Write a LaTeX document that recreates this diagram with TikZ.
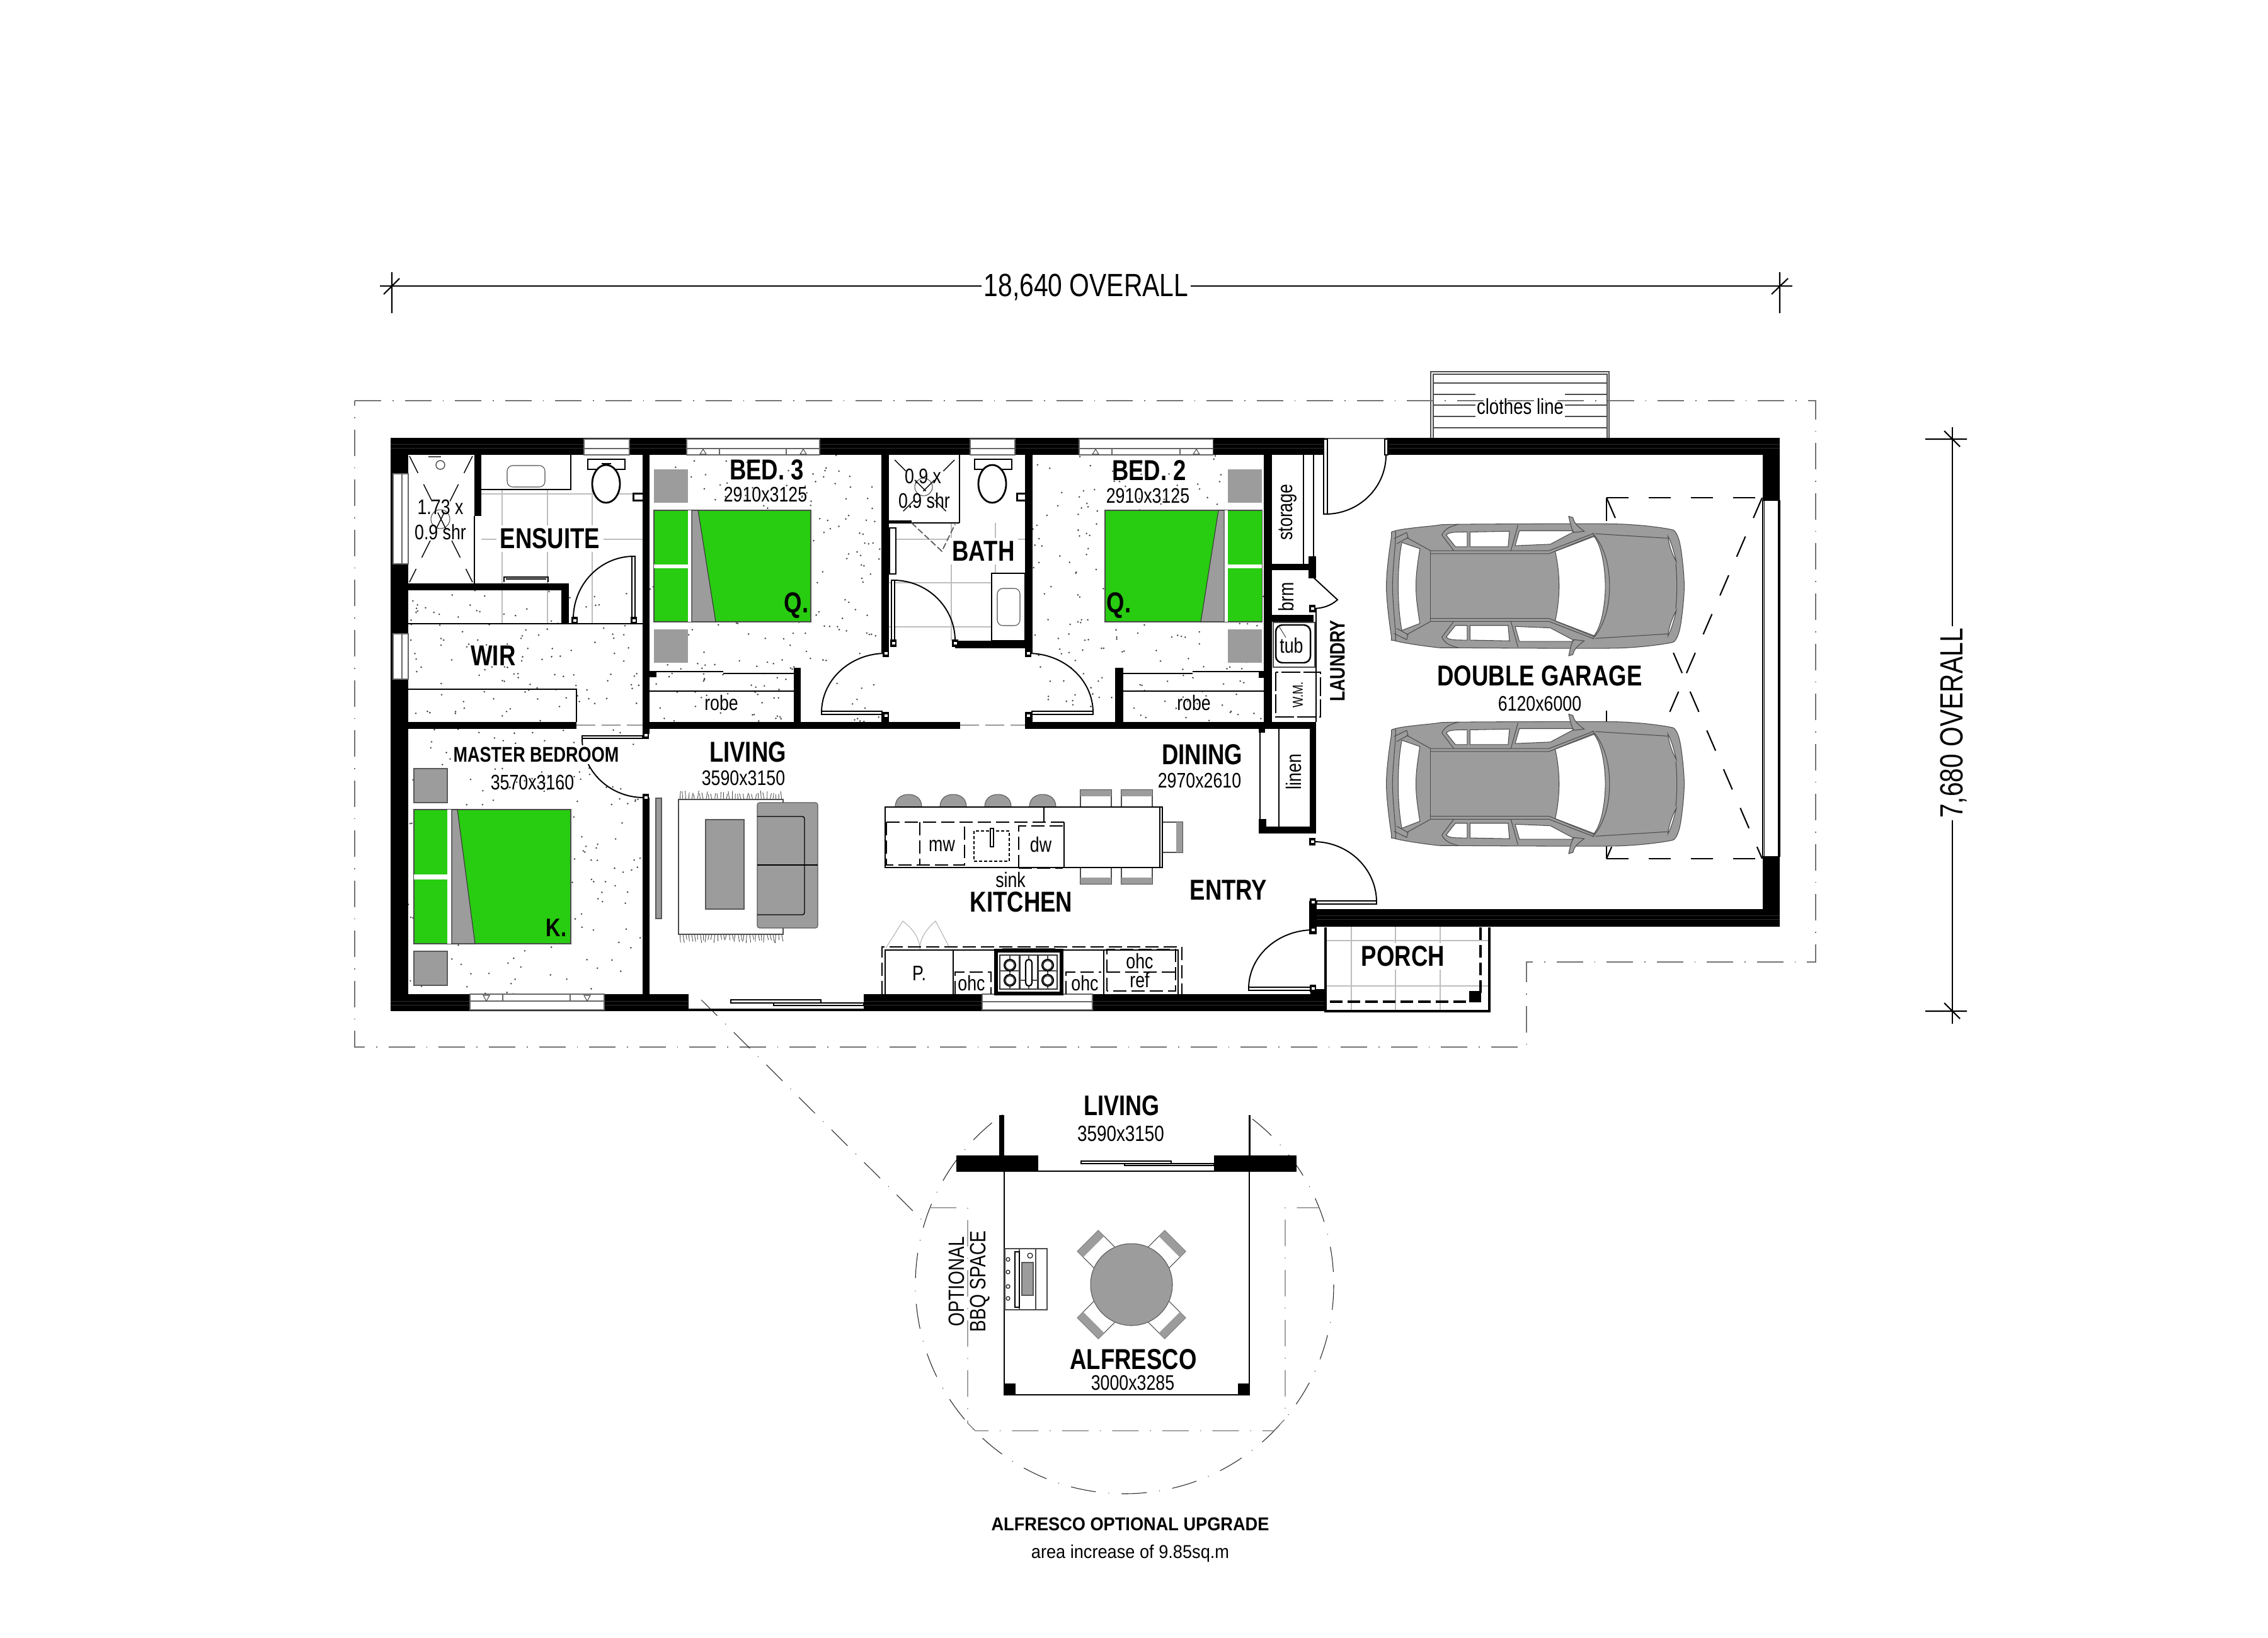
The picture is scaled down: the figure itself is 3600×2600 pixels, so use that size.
\documentclass[tikz,border=0pt]{standalone}
\usepackage{fontspec}
\usetikzlibrary{calc}
\newfontfamily\nf[FakeStretch=0.8]{Liberation Sans}
\newfontfamily\nw[FakeStretch=0.92]{Liberation Sans}
\definecolor{bedgreen}{HTML}{28CC10}
\definecolor{furn}{HTML}{9C9C9C}
\definecolor{tile}{HTML}{BDBDBD}
\definecolor{seam}{HTML}{2E2E2E}
\tikzset{
 roomlabel/.style={font=\nf\bfseries\fontsize{13}{13}\selectfont,inner sep=0pt},
 wiped/.style={fill=white,inner sep=1.5pt},
 sizelabel/.style={font=\nf\fontsize{9.5}{10}\selectfont,inner sep=0pt},
 dimlabel/.style={font=\nf\fontsize{14.5}{15}\selectfont,fill=white,inner sep=1pt},
 thinline/.style={line width=0.4pt,black},
 midline/.style={line width=0.6pt,black},
 tileline/.style={line width=0.4pt,tile},
 furniture/.style={fill=furn,draw=black!65,line width=0.3pt},
 doorleaf/.style={fill=white,draw=black,line width=0.45pt},
 swingline/.style={line width=0.55pt,black},
 dashedblack/.style={line width=0.45pt,black,dash pattern=on 0.21cm off 0.08cm},
 heavydash/.style={line width=0.9pt,black,dash pattern=on 0.2cm off 0.08cm},
 sitedash/.style={line width=0.45pt,black!55,dash pattern=on 0.42cm off 0.18cm on 0.015cm off 0.18cm},
 ringdash/.style={line width=0.3pt,black!85,dash pattern=on 0.4cm off 0.2cm on 0.01cm off 0.2cm},
 linkdash/.style={line width=0.3pt,black!85,dash pattern=on 0.36cm off 0.18cm on 0.01cm off 0.18cm},
 gdoor/.style={line width=0.6pt,black,dash pattern=on 0.35cm off 0.32cm},
 carline/.style={line width=0.3pt,draw=black!70},
 carbody/.style={line width=0.3pt,draw=black!70,fill=furn},
 wallseam/.style={line width=0.2pt,seam},
}
\newcommand\blk[4]{\fill[black] (#1,#2) rectangle (#3,#4);}
\newcommand\speck[5]{\foreach \i in {1,...,#5}{\pgfmathsetmacro\px{#1+rnd*(#3-#1)}\pgfmathsetmacro\py{#2+rnd*(#4-#2)}\fill[black!75] (\px,\py) circle[radius=1.4];}}
\newcommand\swing[3]{\draw[swingline] (#1) .. controls ($(#1)!.552!(#3)$) and ($(#2)!.552!(#3)$) .. (#2);}
\newcommand\win[4]{\fill[white] (#1,#2) rectangle (#3,#4);\draw[line width=0.3pt,black!60] (#1,#2) rectangle (#3,#4);}
\newcommand\halfcar{%
 \draw[carbody] (760,100) -- (775,105) .. controls (780,125) and (785,135) .. (815,160) -- (778,165) .. controls (768,145) and (765,125) .. cycle;
 \draw[carline,fill=white] (325,175) .. controls (335,165) and (345,163) .. (400,163) -- (400,222) -- (358,222) -- cycle;
 \draw[carline,fill=white] (410,163) -- (550,160) -- (545,222) -- (410,222) -- cycle;
 \draw[carline,fill=white] (585,158) -- (770,158) -- (778,162) -- (695,212) -- (570,218) -- cycle;
 \draw[carline] (310,175) .. controls (320,150) and (340,140) .. (370,132);
 \draw[carline] (310,175) -- (352,238);
 \draw[carline] (580,135) -- (555,238);
 \draw[carline] (855,170) -- (1110,188);
 \draw[carline,fill=white] (1112,180) .. controls (1125,205) and (1135,250) .. (1142,282) .. controls (1130,260) and (1115,215) .. cycle;
 \draw[carline] (140,190) -- (185,165) -- (190,185) -- (150,210);
 \draw[carline] (145,158) .. controls (150,180) and (135,300) .. (135,380);
 \draw[carline] (270,250) -- (690,250) -- (852,180);
 \draw[carline] (270,238) -- (690,238) -- (850,168);
 \draw[carline] (185,185) -- (270,238);
}
\newcommand\wholecar{%
 \draw[carbody] plot[smooth cycle,tension=.55] coordinates {(860,130)(1000,135)(1110,150)(1140,165)(1158,230)(1170,380)(1158,530)(1140,595)(1110,610)(1000,625)(860,630)(370,628)(280,625)(145,600)(130,575)(113,380)(130,190)(145,158)(280,138)(370,132)};
 \draw[carline,fill=white] (712,240) -- (848,178) .. controls (880,220) and (890,320) .. (890,380) .. controls (890,440) and (880,540) .. (848,582) -- (712,520) .. controls (722,470) and (726,420) .. (726,380) .. controls (726,340) and (722,290) .. cycle;
 \draw[carline,fill=white] (168,205) -- (232,230) .. controls (222,300) and (218,340) .. (218,380) .. controls (218,420) and (222,460) .. (232,530) -- (168,558) .. controls (158,500) and (155,430) .. (155,380) .. controls (155,330) and (158,260) .. cycle;
 \draw[carline] (845,168) .. controls (895,230) and (905,320) .. (905,380) .. controls (905,440) and (895,530) .. (845,592);
 \draw[carline] (270,238) -- (270,520);
 \draw[carline] (1140,290) .. controls (1145,340) and (1145,420) .. (1140,470);
 \halfcar
 \begin{scope}[shift={(0,760)},yscale=-1]\halfcar\end{scope}
}
\begin{document}
\begin{tikzpicture}[x=0.01cm,y=-0.01cm]
\useasboundingbox (0,0) rectangle (3600,2600);
\fill[white] (0,0) rectangle (3600,2600);
\pgfmathsetseed{4217}
% ---------- carpet speckle
\speck{1031}{722}{1399}{1146}{240}
\speck{1639}{722}{2006}{1146}{240}
\speck{648}{937}{1020}{1146}{120}
\speck{648}{1157}{1020}{1578}{190}
% ---------- tiles
\foreach \v in {797,869,940}{\draw[tileline] (\v,777) -- (\v,990);}
\foreach \h in {784,856}{\draw[tileline] (764,\h) -- (1020,\h);}
\draw[tileline] (764,990) -- (1020,990);
\foreach \v in {1510,1580}{\draw[tileline] (\v,830) -- (\v,1017);}
\foreach \h in {856,925,995}{\draw[tileline] (1411,\h) -- (1627,\h);}
\foreach \v in {2145,2215,2286}{\draw[tileline] (\v,1471) -- (\v,1603);}
\foreach \h in {1493,1565}{\draw[tileline] (2104,\h) -- (2364,\h);}
% ---------- clothes line
\draw[line width=0.5pt,black!70] (2271,695) -- (2271,590) -- (2554,590) -- (2554,695);
\draw[line width=0.4pt,black!70] (2275,695) -- (2275,594) -- (2551,594) -- (2551,695);
\foreach \h in {608,626,643,661,679}{\draw[line width=0.4pt,black!70] (2275,\h) -- (2551,\h);}
\node[font=\nf\fontsize{9.8}{10}\selectfont,fill=white,inner sep=0pt,minimum width=1.42cm,minimum height=0.42cm] (clothes) at (2413,645) {clothes line};
% ---------- site outline
\draw[sitedash] (563,636) -- (2882,636) -- (2882,1527) -- (2423,1527) -- (2423,1662) -- (563,1662) -- cycle;
% ---------- dimension lines
\coordinate (dimL) at (603,454); \coordinate (dimR) at (2845,454);
\coordinate (dimT) at (3099,678); \coordinate (dimB) at (3099,1625);
\draw[line width=0.6pt] (dimL) -- (dimR);
\draw[line width=0.6pt] (dimT) -- (dimB);
\draw[line width=0.6pt] (622,432) -- (622,497) (609,467) -- (634,442);
\draw[line width=0.6pt] (2825,432) -- (2825,497) (2812,467) -- (2838,442);
\draw[line width=0.6pt] (3056,697) -- (3122,697) (3086,684) -- (3111,709);
\draw[line width=0.6pt] (3056,1605) -- (3122,1605) (3086,1592) -- (3111,1617);
\node[dimlabel] (dimW) at (1724,456) {18,640 OVERALL};
\node[dimlabel,rotate=90] (dimH) at (3101,1148) {7,680 OVERALL};
% ---------- walls
\blk{620}{695}{2102}{722}
\blk{2201}{695}{2825}{722}
\blk{620}{695}{648}{1605}
\blk{620}{1578}{1092}{1605}
\blk{1371}{1578}{2104}{1605}
\blk{2798}{695}{2825}{794}
\blk{2798}{1360}{2825}{1471}
\blk{2090}{1443}{2825}{1471}
\blk{2078}{1430}{2090}{1483}
\blk{2080}{1570}{2104}{1605}
\blk{1092}{1601}{1371}{1605}
\draw[line width=0.5pt] (1092,1578) -- (1092,1605);
\draw[line width=0.3pt,black!60] (2102,696) -- (2201,696);
\draw[wallseam] (620,705) -- (2102,705) (620,711) -- (2102,711) (2201,705) -- (2825,705) (2201,711) -- (2825,711);
\draw[wallseam] (620,1589) -- (1092,1589) (620,1595) -- (1092,1595) (1371,1589) -- (2104,1589) (1371,1595) -- (2104,1595);
\draw[wallseam] (2090,1453) -- (2825,1453) (2090,1459) -- (2825,1459);
% interior walls
\blk{1020}{722}{1031}{1165}
\blk{1020}{1266}{1031}{1578}
\blk{648}{1146}{915}{1157}
\blk{1031}{1146}{1524}{1157}
\blk{1627}{1146}{2089}{1157}
\blk{1399}{722}{1411}{1036}
\blk{1627}{722}{1639}{1036}
\blk{1399}{1131}{1411}{1146}
\blk{1627}{1131}{1639}{1146}
\blk{1516}{1017}{1627}{1029}
\blk{648}{926}{903}{937}
\blk{891}{926}{903}{990}
\blk{753}{722}{764}{819}
\blk{1260}{1065}{1271}{1146}
\blk{1770}{1065}{1783}{1146}
\blk{2006}{722}{2019}{1157}
\blk{2019}{895}{2089}{905}
\blk{2077}{883}{2089}{918}
\blk{2019}{976}{2085}{987}
\blk{2079}{1157}{2089}{1323}
\blk{1998}{1312}{2089}{1323}
\blk{1998}{1157}{2008}{1163}
% ---------- thin room lines
\draw[thinline] (648,990) -- (1020,990);
\draw[thinline] (648,1094) -- (915,1094) -- (915,1146);
\draw[thinline] (1031,1097) -- (1260,1097);
\draw[thinline] (1783,1097) -- (2006,1097);
\draw[midline] (1031,1066) -- (1148,1066) (1148,1069) -- (1260,1069);
\draw[midline] (1783,1069) -- (1893,1069) (1893,1066) -- (2006,1066);
\draw[thinline] (753,819) -- (753,926);
\draw[thinline] (2069,722) -- (2069,895);
\draw[midline] (2085,722) -- (2085,883);
\draw[thinline] (2089,966) -- (2089,1146);
\draw[thinline] (2030,1157) -- (2030,1312);
\draw[midline] (2000,1163) -- (2000,1312);
\blk{1030}{1065}{1042}{1075}
\blk{1260}{1060}{1271}{1076}
\blk{1770}{1060}{1783}{1076}
\blk{1998}{1066}{2006}{1076}
\blk{1998}{1300}{2010}{1323}
% doorway dashes
\draw[black!40,line width=0.3pt,dash pattern=on 0.3cm off 0.1cm] (915,1151) -- (1020,1151);
\draw[black!40,line width=0.3pt,dash pattern=on 0.3cm off 0.1cm] (1524,1151) -- (1627,1151);
% ---------- windows
\win{746}{1578}{959}{1603}\draw[black!60,line width=0.3pt] (746,1589) -- (959,1589) (798,1578) -- (798,1589) (905,1578) -- (905,1589);
\win{1090}{697}{1301}{722}\draw[black!60,line width=0.3pt] (1090,712) -- (1301,712) (1142,712) -- (1142,722) (1248,712) -- (1248,722);
\win{1713}{697}{1925}{722}\draw[black!60,line width=0.3pt] (1713,712) -- (1925,712) (1765,712) -- (1765,722) (1873,712) -- (1873,722);
\win{927}{697}{999}{722}\draw[black!60,line width=0.3pt] (927,712) -- (999,712);
\win{1540}{697}{1611}{722}\draw[black!60,line width=0.3pt] (1540,712) -- (1611,712);
\win{624}{752}{648}{895}\draw[black!60,line width=0.3pt] (638,752) -- (638,895);
\win{624}{1006}{648}{1078}\draw[black!60,line width=0.3pt] (638,1006) -- (638,1078);
\win{1559}{1578}{1734}{1603}\draw[black!60,line width=0.3pt] (1559,1590) -- (1734,1590);
\foreach \px in {772,932}{\draw[black!70,line width=0.3pt] (\px-5,1580) -- (\px+5,1580) -- (\px,1589) -- cycle;}
\foreach \px in {1116,1275,1739,1899}{\draw[black!70,line width=0.3pt] (\px-5,721) -- (\px+5,721) -- (\px,713) -- cycle;}
% garage door
\fill[white] (2798,794) rectangle (2825,1360);
\draw[line width=0.4pt] (2798,794) rectangle (2823,1360);
\draw[line width=0.3pt] (2800,794) -- (2800,1360);
\draw[line width=1.2pt] (2824,794) -- (2824,1360);
% ---------- doors
\draw[doorleaf] (1003,883) rectangle (1008,982);
\swing{1006,883}{910,982}{910,883}
\draw[doorleaf] (924,1168) rectangle (1020,1172);
\swing{924,1172}{1022,1266}{924,1266}
\draw[doorleaf] (1304,1129) rectangle (1400,1134);
\swing{1304,1131}{1406,1037}{1304,1037}
\draw[doorleaf] (1415,921) rectangle (1420,1017);
\swing{1418,921}{1516,1017}{1516,921}
\draw[doorleaf] (1638,1129) rectangle (1735,1134);
\swing{1735,1131}{1632,1037}{1735,1037}
\draw[doorleaf] (2101,697) rectangle (2107,816);
\swing{2104,816}{2200,722}{2200,816}
\draw[doorleaf] (2198,697) rectangle (2203,722);
\draw[doorleaf] (2090,1430) rectangle (2185,1435);
\swing{2185,1432}{2085,1336}{2185,1336}
\draw[doorleaf] (1982,1567) rectangle (2080,1572);
\swing{1982,1569}{2085,1476}{1982,1476}
\draw[swingline] (2083,915) -- (2123,952) .. controls (2112,962) and (2098,966) .. (2083,966);
\foreach \hx/\hy in {1006/985,912/985,1025/1167,1025/1266,1406/1037,1406/1136,1418/1021,1516/1021,1632/1037,1632/1136,2083/1336,2084/1432,2084/1476,2084/1569,2083/966}{\fill[black] (\hx-5,\hy-6) rectangle (\hx+5,\hy+6);\fill[white] (\hx-2.5,\hy-2) rectangle (\hx+2.5,\hy+2);}
% ---------- beds
\fill[furn] (1038,745) rectangle (1092,798);
\fill[furn] (1038,999) rectangle (1092,1052);
\filldraw[fill=bedgreen,draw=black!70,line width=0.3pt] (1038,810) rectangle (1287,987);
\fill[white] (1092,810) rectangle (1098,987);
\fill[white] (1038,896) rectangle (1092,902);
\draw[fill=furn,draw=black!80,line width=0.3pt] (1098,810) -- (1108,810) -- (1136,987) -- (1098,987) -- cycle;
\fill[furn] (1949,745) rectangle (2003,798);
\fill[furn] (1949,999) rectangle (2003,1052);
\filldraw[fill=bedgreen,draw=black!70,line width=0.3pt] (1754,810) rectangle (2003,987);
\fill[white] (1943,810) rectangle (1949,987);
\fill[white] (1949,896) rectangle (2003,902);
\draw[fill=furn,draw=black!80,line width=0.3pt] (1934,810) -- (1943,810) -- (1943,987) -- (1906,987) -- cycle;
\draw[furniture] (657,1220) rectangle (710,1274);
\draw[furniture] (657,1510) rectangle (710,1564);
\filldraw[fill=bedgreen,draw=black!70,line width=0.3pt] (657,1285) rectangle (906,1498);
\fill[white] (710,1285) rectangle (717,1498);
\fill[white] (657,1388) rectangle (710,1396);
\draw[fill=furn,draw=black!80,line width=0.3pt] (717,1285) -- (726,1285) -- (754,1498) -- (717,1498) -- cycle;
% ---------- ensuite fixtures
\draw[line width=0.5pt] (764,777) -- (906,777) -- (906,722);
\draw[line width=0.3pt,black!70,rounded corners=2.5pt] (805,739) rectangle (865,773);
\draw[thinline] (800,924) -- (800,916) -- (870,916) -- (870,924);
\draw[thinline] (803,919) -- (867,919);
\draw[line width=0.5pt,fill=white] (933,729) rectangle (992,745);
\draw[line width=0.8pt,fill=white] (962,768) ellipse [x radius=22,y radius=30];
\fill[black] (955,735) rectangle (970,737);
\blk{1004}{782}{1020}{796}\fill[white] (1007,785) rectangle (1020,793);
\draw[line width=0.3pt,black!70] (699,824) circle [radius=15];
\draw[thinline,dash pattern=on 0.3cm off 0.2cm] (650,724) -- (750,924) (750,724) -- (650,924);
\draw[thinline,black!70] (680,725) -- (700,725);
\draw[thinline,black!70] (699,738) circle [radius=7];
% ---------- bath fixtures
\draw[midline] (1411,830) -- (1523,830) (1523,722) -- (1523,830);
\fill[black] (1411,826) rectangle (1447,829);
\draw[line width=0.3pt,black!70] (1466,773) circle [radius=14];
\draw[thinline,dash pattern=on 0.25cm off 0.2cm] (1420,730) -- (1515,825) (1515,730) -- (1420,825);
\draw[black!65,line width=0.5pt,dash pattern=on 0.1cm off 0.04cm] (1447,830) -- (1495,875) -- (1516,832);
\draw[thinline,fill=white] (1412,838) rectangle (1422,911);
\draw[line width=0.5pt,fill=white] (1547,729) rectangle (1606,745);
\draw[line width=0.8pt,fill=white] (1575,768) ellipse [x radius=22,y radius=30];
\blk{1613}{782}{1627}{796}\fill[white] (1616,785) rectangle (1627,793);
\draw[line width=0.5pt,fill=white] (1574,910) -- (1627,910) -- (1627,1017) -- (1574,1017) -- cycle;
\draw[line width=0.3pt,black!70,rounded corners=2.5pt] (1583,934) rectangle (1619,993);
% ---------- laundry
\draw[line width=0.5pt,black!70] (2021,988) rectangle (2087,1059);
\draw[line width=0.7pt,rounded corners=3pt] (2025,992) rectangle (2080,1052);
\draw[line width=0.3pt,black!70] (2030,994) -- (2041,1012);
\draw[line width=0.45pt,dash pattern=on 0.3cm off 0.05cm] (2025,1067) rectangle (2096,1138);
% ---------- alfresco link line
\coordinate (linkA) at (1113,1587); \coordinate (linkB) at (1469,1942);
\draw[linkdash] (linkA) -- (linkB);
% ---------- living
\draw[furniture] (1041,1267) rectangle (1050,1458);
\draw[line width=0.3pt,black!70] (1077,1269) rectangle (1243,1483);
\foreach \fx in {1,...,36}{\pgfmathsetmacro\qx{1077+(\fx-0.5)*166/36}\pgfmathsetmacro\dxa{(rnd-0.5)*5}\pgfmathsetmacro\dxb{(rnd-0.5)*5}\pgfmathsetmacro\dya{8+rnd*6}\pgfmathsetmacro\dyb{8+rnd*6}\draw[line width=0.25pt,black!70] (\qx,1269) -- (\qx+\dxa,1269-\dya) (\qx,1483) -- (\qx+\dxb,1483+\dyb);}
\draw[furniture] (1120,1301) rectangle (1181,1443);
\draw[furniture,rounded corners=1pt] (1202,1274) rectangle (1298,1473);
\draw[line width=0.4pt,rounded corners=1pt] (1202,1296) -- (1277,1296) -- (1277,1452) -- (1202,1452);
\draw[line width=0.4pt] (1202,1373) -- (1298,1373);
% sliding door
\draw[doorleaf] (1160,1587) rectangle (1303,1592);
\draw[doorleaf] (1228,1592) rectangle (1371,1596);
% ---------- kitchen island
\foreach \sx in {1442,1513,1584,1655}{\filldraw[furniture] (\sx-21,1281) .. controls (\sx-21,1267) and (\sx-11,1261) .. (\sx,1261) .. controls (\sx+11,1261) and (\sx+21,1267) .. (\sx+21,1281) -- cycle;}
\foreach \cx in {1715,1780}{
 \draw[line width=0.3pt,black!70] (\cx,1254) rectangle (\cx+49,1281);\fill[furn] (\cx,1254) rectangle (\cx+49,1264);
 \draw[line width=0.3pt,black!70] (\cx,1377) rectangle (\cx+49,1403);\fill[furn] (\cx,1393) rectangle (\cx+49,1403);}
\draw[line width=0.3pt,black!70] (1845,1305) rectangle (1877,1353);\fill[furn] (1867,1305) rectangle (1877,1353);
\draw[line width=0.6pt,fill=white] (1405,1281) rectangle (1845,1377);
\draw[line width=0.3pt] (1841,1281) -- (1841,1377);
\draw[midline] (1657,1281) -- (1657,1305);
\draw[dashedblack] (1407,1305) -- (1689,1305);
\draw[line width=0.8pt] (1689,1305) -- (1689,1377);
\draw[dashedblack] (1407,1305) -- (1407,1373) -- (1531,1373) -- (1531,1305);
\draw[dashedblack] (1460,1305) -- (1460,1373);
\draw[dashedblack] (1617,1378) -- (1617,1311) -- (1687,1311);
\draw[dashedblack] (1617,1378) -- (1687,1378);
\draw[line width=0.3pt,dash pattern=on 0.05cm off 0.03cm] (1546,1319) rectangle (1602,1367);
\draw[line width=0.3pt,fill=white] (1572,1315) rectangle (1577,1344);
% ---------- kitchen back bench
\draw[line width=0.3pt,black!30] (1406,1505) -- (1433,1462) .. controls (1450,1475) and (1460,1490) .. (1460,1507);
\draw[line width=0.3pt,black!30] (1506,1502) -- (1485,1462) .. controls (1470,1475) and (1460,1490) .. (1460,1507);
\draw[line width=0.45pt,dash pattern=on 0.21cm off 0.08cm] (1400,1578) -- (1400,1503) -- (1876,1503) -- (1876,1578);
\draw[midline] (1405,1578) -- (1405,1508) -- (1870,1508) -- (1870,1578);
\draw[line width=0.8pt] (1513,1508) -- (1513,1578);
\draw[line width=0.8pt] (1752,1508) -- (1752,1578);
\draw[dashedblack,line width=0.6pt] (1516,1578) -- (1516,1543) -- (1573,1543) -- (1573,1578);
\draw[dashedblack,line width=0.6pt] (1692,1578) -- (1692,1543) -- (1748,1543);
\draw[dashedblack,line width=0.6pt] (1757,1573) rectangle (1866,1507);
\draw[dashedblack,line width=0.6pt] (1757,1543) -- (1866,1543);
% stove
\fill[black!70] (1591,1505) rectangle (1675,1508);
\draw[line width=1pt,fill=white] (1580,1508) rectangle (1686,1578);
\draw[line width=0.5pt] (1583,1511) rectangle (1683,1575);
\foreach \pa/\pb in {1587/1618,1619/1647,1648/1678}{\draw[line width=0.5pt,black!80] (\pa,1516) rectangle (\pb,1570);}
\draw[line width=0.4pt,black!70] (1587,1541) -- (1618,1541) (1648,1541) -- (1678,1541) (1603,1516) -- (1603,1570) (1663,1516) -- (1663,1570) (1619,1556) -- (1647,1556) (1633,1516) -- (1633,1570);
\foreach \bx/\by in {1603/1532,1603/1556,1663/1532,1663/1556}{\draw[line width=0.6pt,fill=white] (\bx,\by) circle [radius=9];\draw[line width=0.3pt] (\bx,\by) circle [radius=7];}
\draw[line width=0.6pt,fill=white,rounded corners=1.4pt] (1628,1523) rectangle (1638,1565);
% ---------- porch
\draw[line width=0.9pt] (2104,1472) -- (2104,1605) -- (2364,1605) -- (2364,1472);
\draw[heavydash] (2350,1472) -- (2350,1580);
\draw[heavydash] (2111,1590) -- (2332,1590);
\blk{2332}{1573}{2351}{1591}
% ---------- garage door dashes
\draw[gdoor] (2550,790) -- (2797,790);
\draw[gdoor] (2550,1363) -- (2797,1363);
\draw[gdoor] (2550,790) -- (2797,1363);
\draw[gdoor] (2797,790) -- (2550,1363);
\draw[line width=0.6pt] (2550,790) -- (2550,827) (2550,1128) -- (2550,1146) (2550,1341) -- (2550,1363);
% ---------- cars
\begin{scope}[shift={(2150,780)},x=0.0044643cm,y=-0.0039526cm]\wholecar\end{scope}
\begin{scope}[shift={(2150,1094)},x=0.0044643cm,y=-0.0039526cm]\wholecar\end{scope}
% ---------- room labels
\node[roomlabel,wiped] (ensuite) at (873,855) {ENSUITE};
\node[roomlabel] (wir) at (783,1041) {WIR};
\node[roomlabel] (bed3) at (1217,746) {BED. 3};
\node[sizelabel] (bed3s) at (1215,785) {2910x3125};
\node[roomlabel] (bed2) at (1824,747) {BED. 2};
\node[sizelabel] (bed2s) at (1822,787) {2910x3125};
\node[roomlabel,wiped] (bath) at (1561,875) {BATH};
\node[roomlabel] (qa) at (1264,961) {Q.};
\node[roomlabel] (qb) at (1776,961) {Q.};
\node[roomlabel,font=\nf\bfseries\fontsize{11.5}{12}\selectfont] (kk) at (883,1473) {K.};
\node[sizelabel] (robea) at (1145,1116) {robe};
\node[sizelabel] (robeb) at (1895,1116) {robe};
\node[roomlabel,font=\nf\bfseries\fontsize{9.6}{10}\selectfont,fill=white,inner sep=1pt] (master) at (851,1198) {MASTER BEDROOM};
\node[sizelabel] (masters) at (845,1242) {3570x3160};
\node[roomlabel] (living) at (1187,1194) {LIVING};
\node[sizelabel] (livings) at (1180,1235) {3590x3150};
\node[roomlabel] (dining) at (1908,1198) {DINING};
\node[sizelabel] (dinings) at (1904,1239) {2970x2610};
\node[roomlabel] (entry) at (1950,1413) {ENTRY};
\node[roomlabel] (kitchen) at (1621,1432) {KITCHEN};
\node[sizelabel] (sink) at (1604,1397) {sink};
\node[sizelabel] (mw) at (1495,1342) {mw};
\node[sizelabel] (dw) at (1652,1341) {dw};
\node[sizelabel] (pant) at (1459,1545) {P.};
\node[sizelabel] (ohca) at (1542,1561) {ohc};
\node[sizelabel] (ohcb) at (1722,1561) {ohc};
\node[sizelabel] (ohcc) at (1809,1526) {ohc};
\node[sizelabel] (ref) at (1809,1556) {ref};
\node[sizelabel,rotate=90] (linen) at (2054,1225) {linen};
\node[sizelabel,rotate=90] (storage) at (2044,813) {storage};
\node[sizelabel,rotate=90] (brm) at (2042,947) {brm};
\node[sizelabel] (tub) at (2050,1025) {tub};
\node[sizelabel,rotate=90,font=\nf\fontsize{6.5}{7}\selectfont] (wm) at (2060,1103) {W.M.};
\node[roomlabel,rotate=90,font=\nf\bfseries\fontsize{9.5}{10}\selectfont] (laundry) at (2123,1049) {LAUNDRY};
\node[roomlabel,fill=white,inner sep=2pt] (garage) at (2444,1073) {DOUBLE GARAGE};
\node[sizelabel,fill=white,inner sep=1pt] (garages) at (2444,1117) {6120x6000};
\node[roomlabel,wiped] (porch) at (2227,1518) {PORCH};
\node[sizelabel] (sa) at (699,805) {1.73 x};
\node[sizelabel] (sb) at (699,845) {0.9 shr};
\node[sizelabel] (sc) at (1465,756) {0.9 x};
\node[sizelabel] (sd) at (1467,795) {0.9 shr};
% ---------- alfresco detail
\draw[ringdash] (1785,2039) circle [radius=332];
\draw[sitedash,line width=0.35pt] (1476,1917) -- (1536,1917) -- (1536,2259) -- (1548,2271) -- (2022,2271) -- (2040,2252) -- (2040,1917) -- (2094,1917);
\fill[white] (1594,1700) rectangle (1983,2214);
\blk{1518}{1834}{1648}{1860}
\blk{1927}{1834}{2058}{1860}
\blk{1586}{1770}{1594}{1834}
\blk{1982}{1770}{1985}{1834}
\draw[line width=0.8pt] (1594,1860) -- (1594,2214) -- (1983,2214) -- (1983,1860);
\draw[line width=0.6pt] (1648,1859) -- (1927,1859);
\draw[doorleaf] (1716,1843) rectangle (1859,1847);
\draw[doorleaf] (1785,1847) rectangle (1927,1850);
\blk{1594}{2196}{1612}{2214}
\blk{1965}{2196}{1983}{2214}
% table and chairs
\foreach \ang in {45,135,225,315}{\begin{scope}[shift={(1796,2039)},rotate=\ang]
 \draw[line width=0.3pt,black!70,fill=white] (58,-23.5) rectangle (98,23.5);
 \fill[furn] (85,-23.5) rectangle (98,23.5);
\end{scope}}
\draw[furniture] (1796,2039) circle [radius=65];
% bbq
\draw[line width=0.3pt,black!70,fill=white] (1595,1982) rectangle (1662,2079);
\draw[line width=0.3pt,black!70] (1618,1982) -- (1618,2079) (1644,1982) -- (1644,2079);
\draw[furniture] (1622,2004) rectangle (1640,2056);
\draw[line width=0.3pt,fill=white] (1611,1987) rectangle (1618,2075);
\foreach \by in {1999,2019,2042,2061}{\draw[line width=0.3pt,fill=white] (1600,\by) circle [radius=3];}
\draw[line width=0.3pt,fill=white] (1635,1993) circle [radius=4];
% alfresco labels
\node[roomlabel,font=\nf\bfseries\fontsize{12.8}{13}\selectfont] (liva) at (1780,1755) {LIVING};
\node[sizelabel,font=\nf\fontsize{9.9}{10}\selectfont] (livb) at (1779,1799) {3590x3150};
\node[roomlabel,font=\nf\bfseries\fontsize{13}{13}\selectfont] (alf) at (1799,2158) {ALFRESCO};
\node[sizelabel] (alfs) at (1798,2195) {3000x3285};
\node[sizelabel,rotate=90,font=\nf\fontsize{10}{10}\selectfont] (opt) at (1518,2034) {OPTIONAL};
\node[sizelabel,rotate=90,font=\nf\fontsize{10}{10}\selectfont] (bbq) at (1556,2034) {BBQ SPACE};
\node[font=\nw\bfseries\fontsize{8.4}{9}\selectfont,inner sep=0pt] (upg) at (1794,2419) {ALFRESCO OPTIONAL UPGRADE};
\node[font=\nw\fontsize{8.4}{9}\selectfont,inner sep=0pt] (area) at (1794,2466) {area increase of 9.85sq.m};
\end{tikzpicture}
\end{document}
